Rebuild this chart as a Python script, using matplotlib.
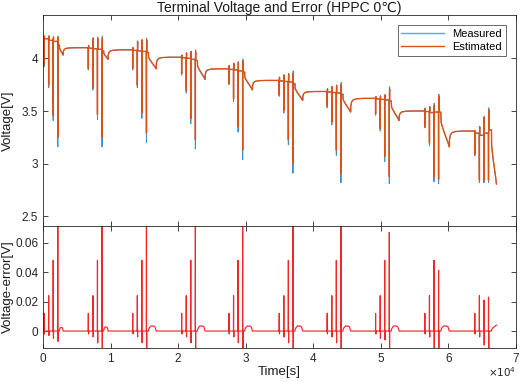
import matplotlib
matplotlib.use('Agg')
import matplotlib.pyplot as plt
from matplotlib.ticker import FuncFormatter

plt.rcParams['font.family'] = ['Liberation Sans', 'DejaVu Sans']

# start of each HPPC pulse train [s] and pulse offsets inside a train
t_block = [150, 6700, 13270, 20510, 27510, 34950, 42050, 49210, 56500, 63890]
pulse_offset = [0, 680, 1350, 2030]

# rest voltage before each pulse train [V]
v_rest = [4.19, 4.10, 4.08, 4.01, 3.90, 3.79, 3.685, 3.62, 3.50, 3.31]

# level after each of the 4 pulses
v_between = [
    [4.185, 4.17, 4.16, 4.125],
    [4.095, 4.09, 4.085, 4.07],
    [4.075, 4.07, 4.065, 4.055],
    [4.005, 4.00, 3.99, 3.98],
    [3.895, 3.89, 3.88, 3.87],
    [3.785, 3.78, 3.775, 3.76],
    [3.68, 3.675, 3.67, 3.66],
    [3.615, 3.61, 3.605, 3.595],
    [3.495, 3.485, 3.49, 3.49],
    [3.29, 3.27, 3.29, 3.32],
]

# lowest measured voltage of the discharge pulses
v_min_meas = [
    [3.92, 3.72, 3.41, 3.16],
    [3.89, 3.70, 3.42, 3.16],
    [3.89, 3.72, 3.43, 3.20],
    [3.84, 3.67, 3.38, 3.14],
    [3.75, 3.59, 3.30, 3.04],
    [3.64, 3.48, 3.18, 2.91],
    [3.53, 3.37, 3.08, 2.82],
    [3.46, 3.31, 3.02, 2.81],
    [3.34, 3.17, 2.83, 2.81],
    [3.075, 2.82, 2.82, 2.82],
]

# top of the charge pulses
v_max = [
    [4.21, 4.21, 4.20, 4.20],
    [4.12, 4.19, 4.19, 4.19],
    [4.10, 4.16, 4.17, 4.17],
    [4.03, 4.05, 4.06, 4.06],
    [3.93, 3.95, 3.96, 3.97],
    [3.82, 3.84, 3.85, 3.86],
    [3.71, 3.73, 3.74, 3.75],
    [3.635, 3.64, 3.65, 3.71],
    [3.525, 3.54, 3.555, 3.64],
    [3.31, 3.35, 3.44, 3.51],
]

# error peaks at discharge / charge pulses
err_peak = [
    [0.012, 0.024, 0.048, 0.09],
    [0.012, 0.024, 0.048, 0.09],
    [0.012, 0.024, 0.048, 0.09],
    [0.012, 0.024, 0.048, 0.09],
    [0.012, 0.024, 0.048, 0.09],
    [0.012, 0.024, 0.048, 0.09],
    [0.012, 0.024, 0.048, 0.09],
    [0.012, 0.024, 0.048, 0.067],
    [0.012, 0.024, 0.048, 0.041],
    [0.012, 0.024, 0.021, 0.023],
]
err_neg = [
    [0.002, 0.003, 0.005, 0.007],
    [0.002, 0.004, 0.008, 0.02],
    [0.002, 0.004, 0.008, 0.02],
    [0.002, 0.004, 0.008, 0.02],
    [0.002, 0.004, 0.008, 0.02],
    [0.002, 0.004, 0.008, 0.02],
    [0.002, 0.004, 0.008, 0.02],
    [0.002, 0.005, 0.006, 0.02],
    [0.002, 0.004, 0.02, 0.02],
    [0.002, 0.004, 0.0095, 0.02],
]

# SOC step after each train: start/end after last pulse [s], voltage at its end, error bump
step_start = [250, 250, 300, 300, 300, 300, 300, 300, 350, 450]
step_end = [800, 900, 1450, 1450, 1450, 1450, 1450, 1450, 1600, 1180]
v_dip = [4.03, 3.99, 3.90, 3.80, 3.70, 3.60, 3.49, 3.41, 3.16, 2.81]
err_bump = [0.0025, 0.0028, 0.0035, 0.0035, 0.0035, 0.0035, 0.0035, 0.0035, 0.0035, 0.004]

# shapes
step_t = [0, 0.03, 0.15, 0.35, 0.7, 0.85, 1.0]
step_v = [0, 0.3, 0.4, 0.55, 0.78, 0.88, 1.0]
bump_v = [0, 0.3, 0.7, 1.0, 0.95, 0.8, 0]
bump_last = [0, 0.2, 0.4, 0.6, 0.8, 0.9, 1.0]
relax_t = [20, 150, 400, 900, 2000]
relax_v = [0.45, 0.75, 0.9, 0.97, 1.0]

t, v_est, err = [0.0], [v_rest[0]], [0.0]


def add(tt, vv, ee=0.0):
    t.append(tt)
    v_est.append(vv)
    err.append(ee)


n = len(t_block)
for k in range(n):
    base = v_rest[k]
    for j, off in enumerate(pulse_offset):
        tp = t_block[k] + off
        lo = v_min_meas[k][j] + err_peak[k][j]
        add(tp, base)
        add(tp + 1, lo, err_peak[k][j])
        add(tp + 10, lo, err_peak[k][j])
        add(tp + 11, base)
        add(tp + 40, base)
        add(tp + 41, v_max[k][j], -err_neg[k][j])
        add(tp + 50, v_max[k][j], -err_neg[k][j])
        base = v_between[k][j]
        add(tp + 51, base)
    t4 = t_block[k] + pulse_offset[-1]
    ts, te = t4 + step_start[k], t4 + step_end[k]
    shape = bump_last if k == n - 1 else bump_v
    for a, f, b in zip(step_t, step_v, shape):
        add(ts + a * (te - ts), base + f * (v_dip[k] - base), b * err_bump[k])
    if k < n - 1:
        for dt, f in zip(relax_t, relax_v):
            add(te + dt, v_dip[k] + f * (v_rest[k + 1] - v_dip[k]))

v_meas = [a - b for a, b in zip(v_est, err)]

fig = plt.figure(figsize=(5.25, 3.82), dpi=100)
ax1 = fig.add_axes([0.0819, 0.4084, 0.901, 0.5523])
ax2 = fig.add_axes([0.0819, 0.089, 0.901, 0.3194], sharex=ax1)

ax1.plot(t, v_meas, color='#3A8FD0', lw=0.7, label='Measured')
ax1.plot(t, v_est, color='#D95319', lw=1.0, label='Estimated')
ax2.plot(t, err, color='#F02828', lw=0.85)

ax1.set_xlim(0, 70000)
ax1.set_ylim(2.41, 4.41)
ax1.set_yticks([2.5, 3, 3.5, 4])
ax2.set_ylim(-0.0115, 0.0713)
ax2.set_yticks([0, 0.02, 0.04, 0.06])
fmt = FuncFormatter(lambda x, p: '%g' % x)
ax1.yaxis.set_major_formatter(fmt)
ax2.yaxis.set_major_formatter(fmt)
ax2.set_xticks(range(0, 70001, 10000))
ax2.xaxis.set_major_formatter(FuncFormatter(lambda x, p: '%g' % (x / 1e4)))

for ax in (ax1, ax2):
    ax.tick_params(direction='in', top=True, right=True, length=3.5, width=0.6,
                   colors='0.15', labelsize=8.5)
    for s in ax.spines.values():
        s.set_color('0.15')
        s.set_linewidth(0.6)
ax1.tick_params(labelbottom=False)

ax1.set_title('Terminal Voltage and Error (HPPC 0℃)', fontsize=10, pad=2.5, color='0.1')
ax1.set_ylabel('Voltage[V]', fontsize=9.5, color='0.1')
ax2.set_ylabel('Voltage-error[V]', fontsize=9.5, color='0.1')
ax2.set_xlabel('Time[s]', fontsize=9.5, color='0.1', labelpad=1)
ax1.yaxis.set_label_coords(-0.062, 0.5)
ax2.yaxis.set_label_coords(-0.062, 0.5)
fig.text(0.983, 0.008, r'$\times10^4$', ha='right', va='bottom', fontsize=7.5, color='0.15')

leg = ax1.legend(loc='upper right', fontsize=8, frameon=True, fancybox=False,
                 handlelength=3.8, borderaxespad=0.9, borderpad=0.35, labelspacing=0.25)
leg.get_frame().set_edgecolor('0.15')
leg.get_frame().set_linewidth(0.6)
leg.get_lines()[0].set_color('#5AA8E0')
leg.get_lines()[0].set_linewidth(1.0)

fig.savefig('out.png', dpi=100)
